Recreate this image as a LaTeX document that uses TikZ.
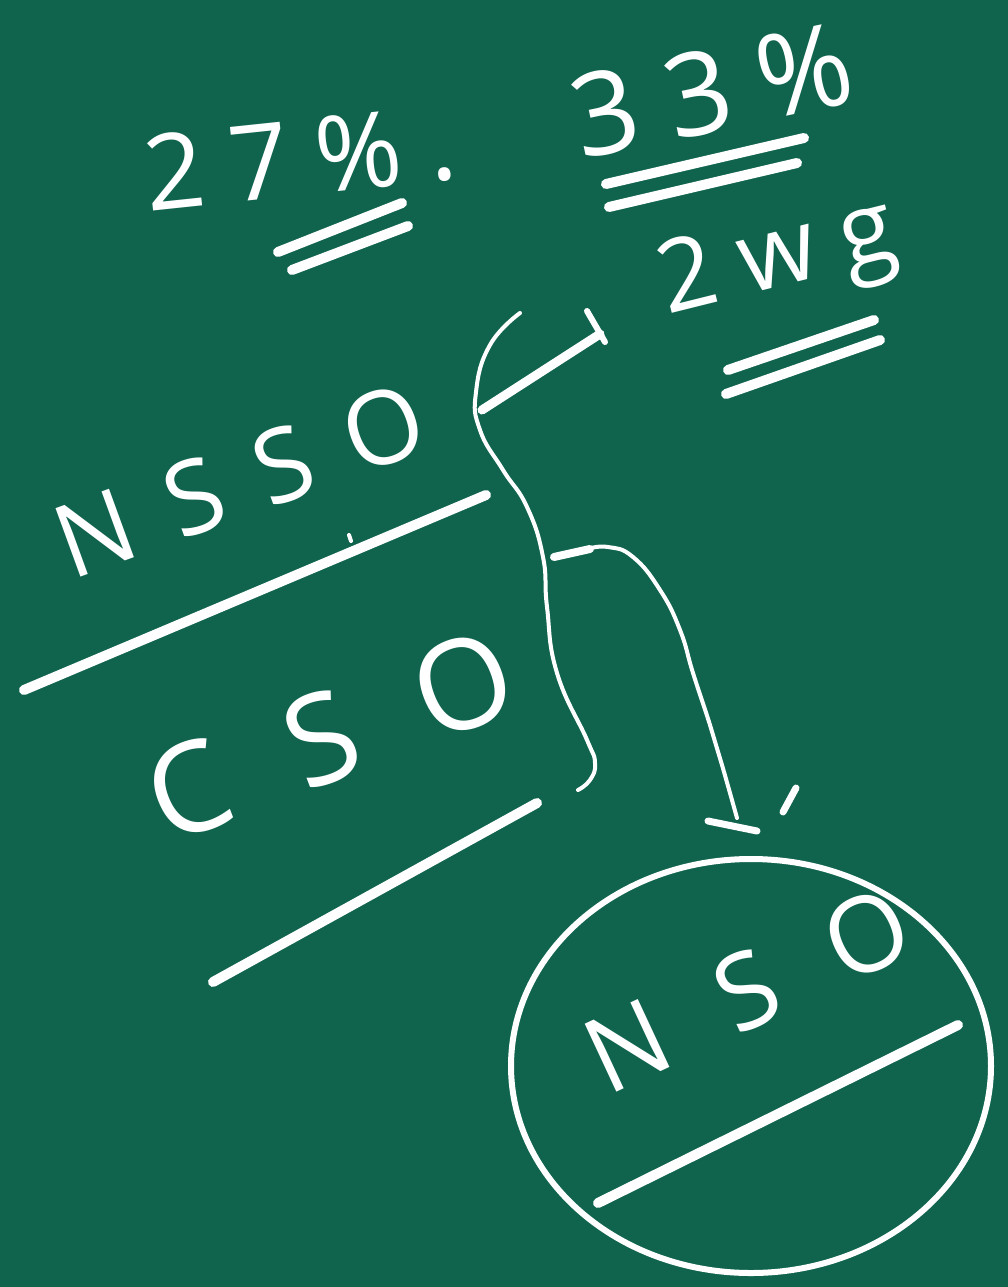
\documentclass[tikz,border=0pt]{standalone}
\usepackage{fontspec}
\newfontfamily\chalkfont{Open Sans}
\definecolor{board}{RGB}{16,100,78}
\newcommand\chalksize[2]{\chalkfont\fontsize{#1}{#1}\selectfont\addfontfeature{LetterSpace=#2}}
\tikzset{
  chalk/.style={white, line width=10, line cap=round},
  chalkthin/.style={white, line width=4, line cap=round},
  word/.style={white, inner sep=0pt},
}

\begin{document}
\begin{tikzpicture}[x=1pt, y=-1pt]
\fill[board] (0,0) rectangle (1008,1287);
\useasboundingbox (0,0) rectangle (1008,1287);

\node[word, rotate=6, font=\chalksize{105}{25}] (pa) at (300,158) {27\%.};
\draw[chalk] (278,252) -- (402,203);
\draw[chalk] (292,270) -- (408,226);

\node[word, rotate=12, font=\chalksize{115}{25}] (pb) at (712,90) {33\%};
\draw[chalk] (606,184) -- (804,138);
\draw[chalk] (609,207) -- (797,163);

\node[word, rotate=14, font=\chalksize{100}{25}] (wg) at (778,262) {2wg};
\draw[chalk] (728,370) -- (874,320);
\draw[chalk] (726,394) -- (880,340);

\draw[chalk, line width=9] (482,410) -- (600,334);
\draw[chalkthin, line width=6] (587,311) -- (605,342);

\node[word, rotate=20, font=\chalksize{102}{38}] (nsso) at (240,480) {NSSO};
\draw[chalk] (24,690) -- (486,495);
\draw[chalkthin] (349,535) -- (351,541);

\draw[chalkthin] plot[smooth, tension=0.8] coordinates {(520,313) (490,345) (476,392) (480,430) (503,470) (527,507) (543,557) (547,607) (557,673) (587,740) (595,763) (590,780) (578,790)};

\draw[chalkthin, line width=8] (554,557) -- (590,549);
\draw[chalkthin] plot[smooth, tension=0.8] coordinates {(588,549) (608,547) (633,557) (660,590) (680,630) (693,673) (710,725) (722,765) (737,818)};
\draw[chalkthin, line width=7] (708,821) -- (757,831);
\draw[chalkthin, line width=7] (796,788) -- (783,812);

\node[word, rotate=21, font=\chalksize{125}{55}] (cso) at (330,735) {CSO};
\draw[chalk] (213,982) -- (537,803);

\node[word, rotate=25, font=\chalksize{105}{60}] (nso) at (748,990) {NSO};
\draw[chalk] (598,1203) -- (958,1025);
\draw[chalkthin, line width=6] (751,1066) ellipse [x radius=240, y radius=207];
\end{tikzpicture}
\end{document}
